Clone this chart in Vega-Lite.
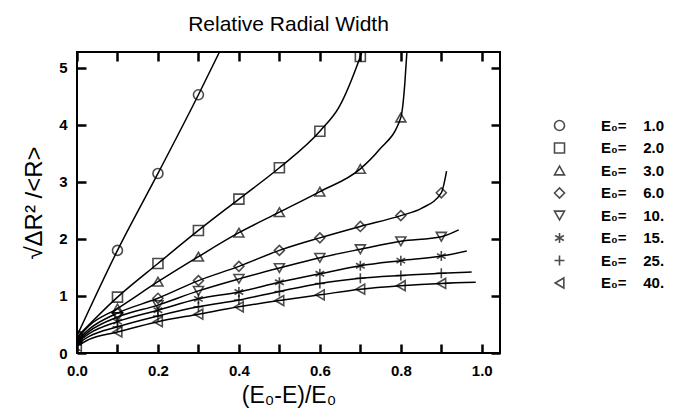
{
  "$schema": "https://vega.github.io/schema/vega-lite/v6.json",
  "width": 423,
  "height": 301,
  "autosize": {"type": "none"},
  "padding": {"left": 77, "top": 52, "right": 180, "bottom": 66},
  "background": "white",
  "config": {
    "view": {"stroke": "black", "strokeWidth": 2},
    "font": "Liberation Sans",
    "axis": {"domain": false, "grid": false, "ticks": true, "tickColor": "#000000", "tickWidth": 2.5, "tickOpacity": 1, "labelColor": "black", "titleColor": "black", "labelFont": "Liberation Sans", "labelFontWeight": "bold", "labelFontSize": 15, "titleFont": "Liberation Sans", "titleFontWeight": "normal"}
  },
  "title": {"text": "Relative Radial Width", "fontSize": 21, "fontWeight": "normal", "font": "Liberation Sans", "color": "black", "anchor": "middle", "offset": 16},
  "datasets": {
    "curves": [
      {"E0": "1.0", "x": 0, "y": 0.3}, {"E0": "1.0", "x": 0.1, "y": 1.8}, {"E0": "1.0", "x": 0.2, "y": 3.15}, {"E0": "1.0", "x": 0.3, "y": 4.53}, {"E0": "1.0", "x": 0.352, "y": 5.28},
      {"E0": "2.0", "x": 0, "y": 0.28}, {"E0": "2.0", "x": 0.1, "y": 0.98}, {"E0": "2.0", "x": 0.2, "y": 1.57}, {"E0": "2.0", "x": 0.3, "y": 2.15}, {"E0": "2.0", "x": 0.4, "y": 2.7}, {"E0": "2.0", "x": 0.5, "y": 3.25}, {"E0": "2.0", "x": 0.6, "y": 3.89}, {"E0": "2.0", "x": 0.648, "y": 4.32}, {"E0": "2.0", "x": 0.7, "y": 5.2}, {"E0": "2.0", "x": 0.704, "y": 5.28},
      {"E0": "3.0", "x": 0, "y": 0.25}, {"E0": "3.0", "x": 0.03, "y": 0.48}, {"E0": "3.0", "x": 0.1, "y": 0.78}, {"E0": "3.0", "x": 0.2, "y": 1.25}, {"E0": "3.0", "x": 0.3, "y": 1.69}, {"E0": "3.0", "x": 0.4, "y": 2.11}, {"E0": "3.0", "x": 0.5, "y": 2.47}, {"E0": "3.0", "x": 0.6, "y": 2.83}, {"E0": "3.0", "x": 0.7, "y": 3.23}, {"E0": "3.0", "x": 0.746, "y": 3.56}, {"E0": "3.0", "x": 0.8, "y": 4.13}, {"E0": "3.0", "x": 0.81, "y": 4.74}, {"E0": "3.0", "x": 0.815, "y": 5.28},
      {"E0": "6.0", "x": 0, "y": 0.22}, {"E0": "6.0", "x": 0.03, "y": 0.42}, {"E0": "6.0", "x": 0.1, "y": 0.7}, {"E0": "6.0", "x": 0.2, "y": 0.96}, {"E0": "6.0", "x": 0.3, "y": 1.27}, {"E0": "6.0", "x": 0.4, "y": 1.52}, {"E0": "6.0", "x": 0.5, "y": 1.8}, {"E0": "6.0", "x": 0.6, "y": 2.02}, {"E0": "6.0", "x": 0.7, "y": 2.22}, {"E0": "6.0", "x": 0.8, "y": 2.41}, {"E0": "6.0", "x": 0.852, "y": 2.54}, {"E0": "6.0", "x": 0.9, "y": 2.81}, {"E0": "6.0", "x": 0.913, "y": 3.19},
      {"E0": "10.", "x": 0, "y": 0.2}, {"E0": "10.", "x": 0.03, "y": 0.38}, {"E0": "10.", "x": 0.1, "y": 0.63}, {"E0": "10.", "x": 0.2, "y": 0.84}, {"E0": "10.", "x": 0.3, "y": 1.09}, {"E0": "10.", "x": 0.4, "y": 1.3}, {"E0": "10.", "x": 0.5, "y": 1.49}, {"E0": "10.", "x": 0.6, "y": 1.67}, {"E0": "10.", "x": 0.7, "y": 1.82}, {"E0": "10.", "x": 0.8, "y": 1.96}, {"E0": "10.", "x": 0.9, "y": 2.04}, {"E0": "10.", "x": 0.943, "y": 2.16},
      {"E0": "15.", "x": 0, "y": 0.18}, {"E0": "15.", "x": 0.03, "y": 0.34}, {"E0": "15.", "x": 0.1, "y": 0.55}, {"E0": "15.", "x": 0.2, "y": 0.75}, {"E0": "15.", "x": 0.3, "y": 0.95}, {"E0": "15.", "x": 0.4, "y": 1.07}, {"E0": "15.", "x": 0.5, "y": 1.24}, {"E0": "15.", "x": 0.6, "y": 1.39}, {"E0": "15.", "x": 0.7, "y": 1.53}, {"E0": "15.", "x": 0.8, "y": 1.62}, {"E0": "15.", "x": 0.9, "y": 1.7}, {"E0": "15.", "x": 0.963, "y": 1.79},
      {"E0": "25.", "x": 0, "y": 0.15}, {"E0": "25.", "x": 0.03, "y": 0.29}, {"E0": "25.", "x": 0.1, "y": 0.46}, {"E0": "25.", "x": 0.2, "y": 0.65}, {"E0": "25.", "x": 0.3, "y": 0.81}, {"E0": "25.", "x": 0.4, "y": 0.93}, {"E0": "25.", "x": 0.5, "y": 1.08}, {"E0": "25.", "x": 0.6, "y": 1.22}, {"E0": "25.", "x": 0.7, "y": 1.31}, {"E0": "25.", "x": 0.8, "y": 1.36}, {"E0": "25.", "x": 0.9, "y": 1.4}, {"E0": "25.", "x": 0.975, "y": 1.42},
      {"E0": "40.", "x": 0, "y": 0.12}, {"E0": "40.", "x": 0.03, "y": 0.24}, {"E0": "40.", "x": 0.1, "y": 0.37}, {"E0": "40.", "x": 0.2, "y": 0.55}, {"E0": "40.", "x": 0.3, "y": 0.68}, {"E0": "40.", "x": 0.4, "y": 0.81}, {"E0": "40.", "x": 0.5, "y": 0.92}, {"E0": "40.", "x": 0.6, "y": 1.02}, {"E0": "40.", "x": 0.7, "y": 1.12}, {"E0": "40.", "x": 0.8, "y": 1.18}, {"E0": "40.", "x": 0.9, "y": 1.22}, {"E0": "40.", "x": 0.985, "y": 1.24}
    ],
    "markers": [
      {"E0": "1.0", "x": 0, "y": 0.3}, {"E0": "1.0", "x": 0.1, "y": 1.8}, {"E0": "1.0", "x": 0.2, "y": 3.15}, {"E0": "1.0", "x": 0.3, "y": 4.53},
      {"E0": "2.0", "x": 0, "y": 0.28}, {"E0": "2.0", "x": 0.1, "y": 0.98}, {"E0": "2.0", "x": 0.2, "y": 1.57}, {"E0": "2.0", "x": 0.3, "y": 2.15}, {"E0": "2.0", "x": 0.4, "y": 2.7}, {"E0": "2.0", "x": 0.5, "y": 3.25}, {"E0": "2.0", "x": 0.6, "y": 3.89}, {"E0": "2.0", "x": 0.7, "y": 5.2},
      {"E0": "3.0", "x": 0, "y": 0.25}, {"E0": "3.0", "x": 0.1, "y": 0.78}, {"E0": "3.0", "x": 0.2, "y": 1.25}, {"E0": "3.0", "x": 0.3, "y": 1.69}, {"E0": "3.0", "x": 0.4, "y": 2.11}, {"E0": "3.0", "x": 0.5, "y": 2.47}, {"E0": "3.0", "x": 0.6, "y": 2.83}, {"E0": "3.0", "x": 0.7, "y": 3.23}, {"E0": "3.0", "x": 0.8, "y": 4.13},
      {"E0": "6.0", "x": 0, "y": 0.22}, {"E0": "6.0", "x": 0.1, "y": 0.7}, {"E0": "6.0", "x": 0.2, "y": 0.96}, {"E0": "6.0", "x": 0.3, "y": 1.27}, {"E0": "6.0", "x": 0.4, "y": 1.52}, {"E0": "6.0", "x": 0.5, "y": 1.8}, {"E0": "6.0", "x": 0.6, "y": 2.02}, {"E0": "6.0", "x": 0.7, "y": 2.22}, {"E0": "6.0", "x": 0.8, "y": 2.41}, {"E0": "6.0", "x": 0.9, "y": 2.81},
      {"E0": "10.", "x": 0, "y": 0.2}, {"E0": "10.", "x": 0.1, "y": 0.63}, {"E0": "10.", "x": 0.2, "y": 0.84}, {"E0": "10.", "x": 0.3, "y": 1.09}, {"E0": "10.", "x": 0.4, "y": 1.3}, {"E0": "10.", "x": 0.5, "y": 1.49}, {"E0": "10.", "x": 0.6, "y": 1.67}, {"E0": "10.", "x": 0.7, "y": 1.82}, {"E0": "10.", "x": 0.8, "y": 1.96}, {"E0": "10.", "x": 0.9, "y": 2.04},
      {"E0": "15.", "x": 0, "y": 0.18}, {"E0": "15.", "x": 0.1, "y": 0.55}, {"E0": "15.", "x": 0.2, "y": 0.75}, {"E0": "15.", "x": 0.3, "y": 0.95}, {"E0": "15.", "x": 0.4, "y": 1.07}, {"E0": "15.", "x": 0.5, "y": 1.24}, {"E0": "15.", "x": 0.6, "y": 1.39}, {"E0": "15.", "x": 0.7, "y": 1.53}, {"E0": "15.", "x": 0.8, "y": 1.62}, {"E0": "15.", "x": 0.9, "y": 1.7},
      {"E0": "25.", "x": 0, "y": 0.15}, {"E0": "25.", "x": 0.1, "y": 0.46}, {"E0": "25.", "x": 0.2, "y": 0.65}, {"E0": "25.", "x": 0.3, "y": 0.81}, {"E0": "25.", "x": 0.4, "y": 0.93}, {"E0": "25.", "x": 0.5, "y": 1.08}, {"E0": "25.", "x": 0.6, "y": 1.22}, {"E0": "25.", "x": 0.7, "y": 1.31}, {"E0": "25.", "x": 0.8, "y": 1.36}, {"E0": "25.", "x": 0.9, "y": 1.4},
      {"E0": "40.", "x": 0, "y": 0.12}, {"E0": "40.", "x": 0.1, "y": 0.37}, {"E0": "40.", "x": 0.2, "y": 0.55}, {"E0": "40.", "x": 0.3, "y": 0.68}, {"E0": "40.", "x": 0.4, "y": 0.81}, {"E0": "40.", "x": 0.5, "y": 0.92}, {"E0": "40.", "x": 0.6, "y": 1.02}, {"E0": "40.", "x": 0.7, "y": 1.12}, {"E0": "40.", "x": 0.8, "y": 1.18}, {"E0": "40.", "x": 0.9, "y": 1.22}
    ]
  },
  "layer": [
    {
      "data": {"name": "curves"},
      "mark": {"type": "line", "interpolate": "monotone", "color": "black", "strokeWidth": 1.5, "clip": true},
      "encoding": {
        "x": {"field": "x", "type": "quantitative", "scale": {"domain": [0, 1.045], "nice": false, "zero": false},
          "axis": {"orient": "bottom", "offset": -9, "title": "(E₀-E)/E₀", "titleFontSize": 23, "titlePadding": 6, "values": [0, 0.1, 0.2, 0.3, 0.4, 0.5, 0.6, 0.7, 0.8, 0.9, 1.0], "format": ".1f", "labelExpr": "indexof(['0.0','0.2','0.4','0.6','0.8','1.0'], datum.label) >= 0 ? datum.label : ''", "tickSize": 9, "labelPadding": 10, "labelFlush": false}},
        "y": {"field": "y", "type": "quantitative", "scale": {"domain": [0, 5.28], "nice": false, "zero": false},
          "axis": {"orient": "left", "offset": -9, "title": "√ΔR² /<R>", "titleFontSize": 24, "titlePadding": 12, "values": [0, 1, 2, 3, 4, 5], "format": "d", "tickSize": 9, "labelPadding": 10, "labelFlush": false}},
        "detail": {"field": "E0", "type": "nominal"}
      }
    },
    {
      "data": {"name": "markers"},
      "mark": {"type": "point", "filled": false, "color": "black", "strokeWidth": 1.6, "size": 100, "clip": true},
      "encoding": {
        "x": {"field": "x", "type": "quantitative",
          "axis": {"orient": "top", "offset": -9, "title": null, "labels": false, "values": [0, 0.1, 0.2, 0.3, 0.4, 0.5, 0.6, 0.7, 0.8, 0.9, 1.0], "tickSize": 9}},
        "y": {"field": "y", "type": "quantitative",
          "axis": {"orient": "right", "offset": -9, "title": null, "labels": false, "values": [0, 1, 2, 3, 4, 5], "tickSize": 9}},
        "shape": {"field": "E0", "type": "nominal",
          "scale": {"domain": ["1.0", "2.0", "3.0", "6.0", "10.", "15.", "25.", "40."],
            "range": ["circle", "square", "triangle-up", "diamond", "triangle-down", "M0,-1L0,1M-0.87,-0.5L0.87,0.5M-0.87,0.5L0.87,-0.5", "M-1,0L1,0M0,-1L0,1", "triangle-left"]},
          "legend": {"orient": "none", "legendX": 475, "legendY": 66, "title": null, "padding": 0, "symbolSize": 100, "symbolStrokeWidth": 1.6, "symbolStrokeColor": "black", "symbolFillColor": "transparent", "labelFont": "Liberation Sans", "labelFontWeight": "bold", "labelFontSize": 15, "labelColor": "black", "labelOffset": 34, "rowPadding": 5.5, "labelExpr": "'E₀=\u00a0\u00a0\u00a0\u00a0' + datum.label"}}
      }
    }
  ],
  "resolve": {"axis": {"x": "independent", "y": "independent"}}
}
